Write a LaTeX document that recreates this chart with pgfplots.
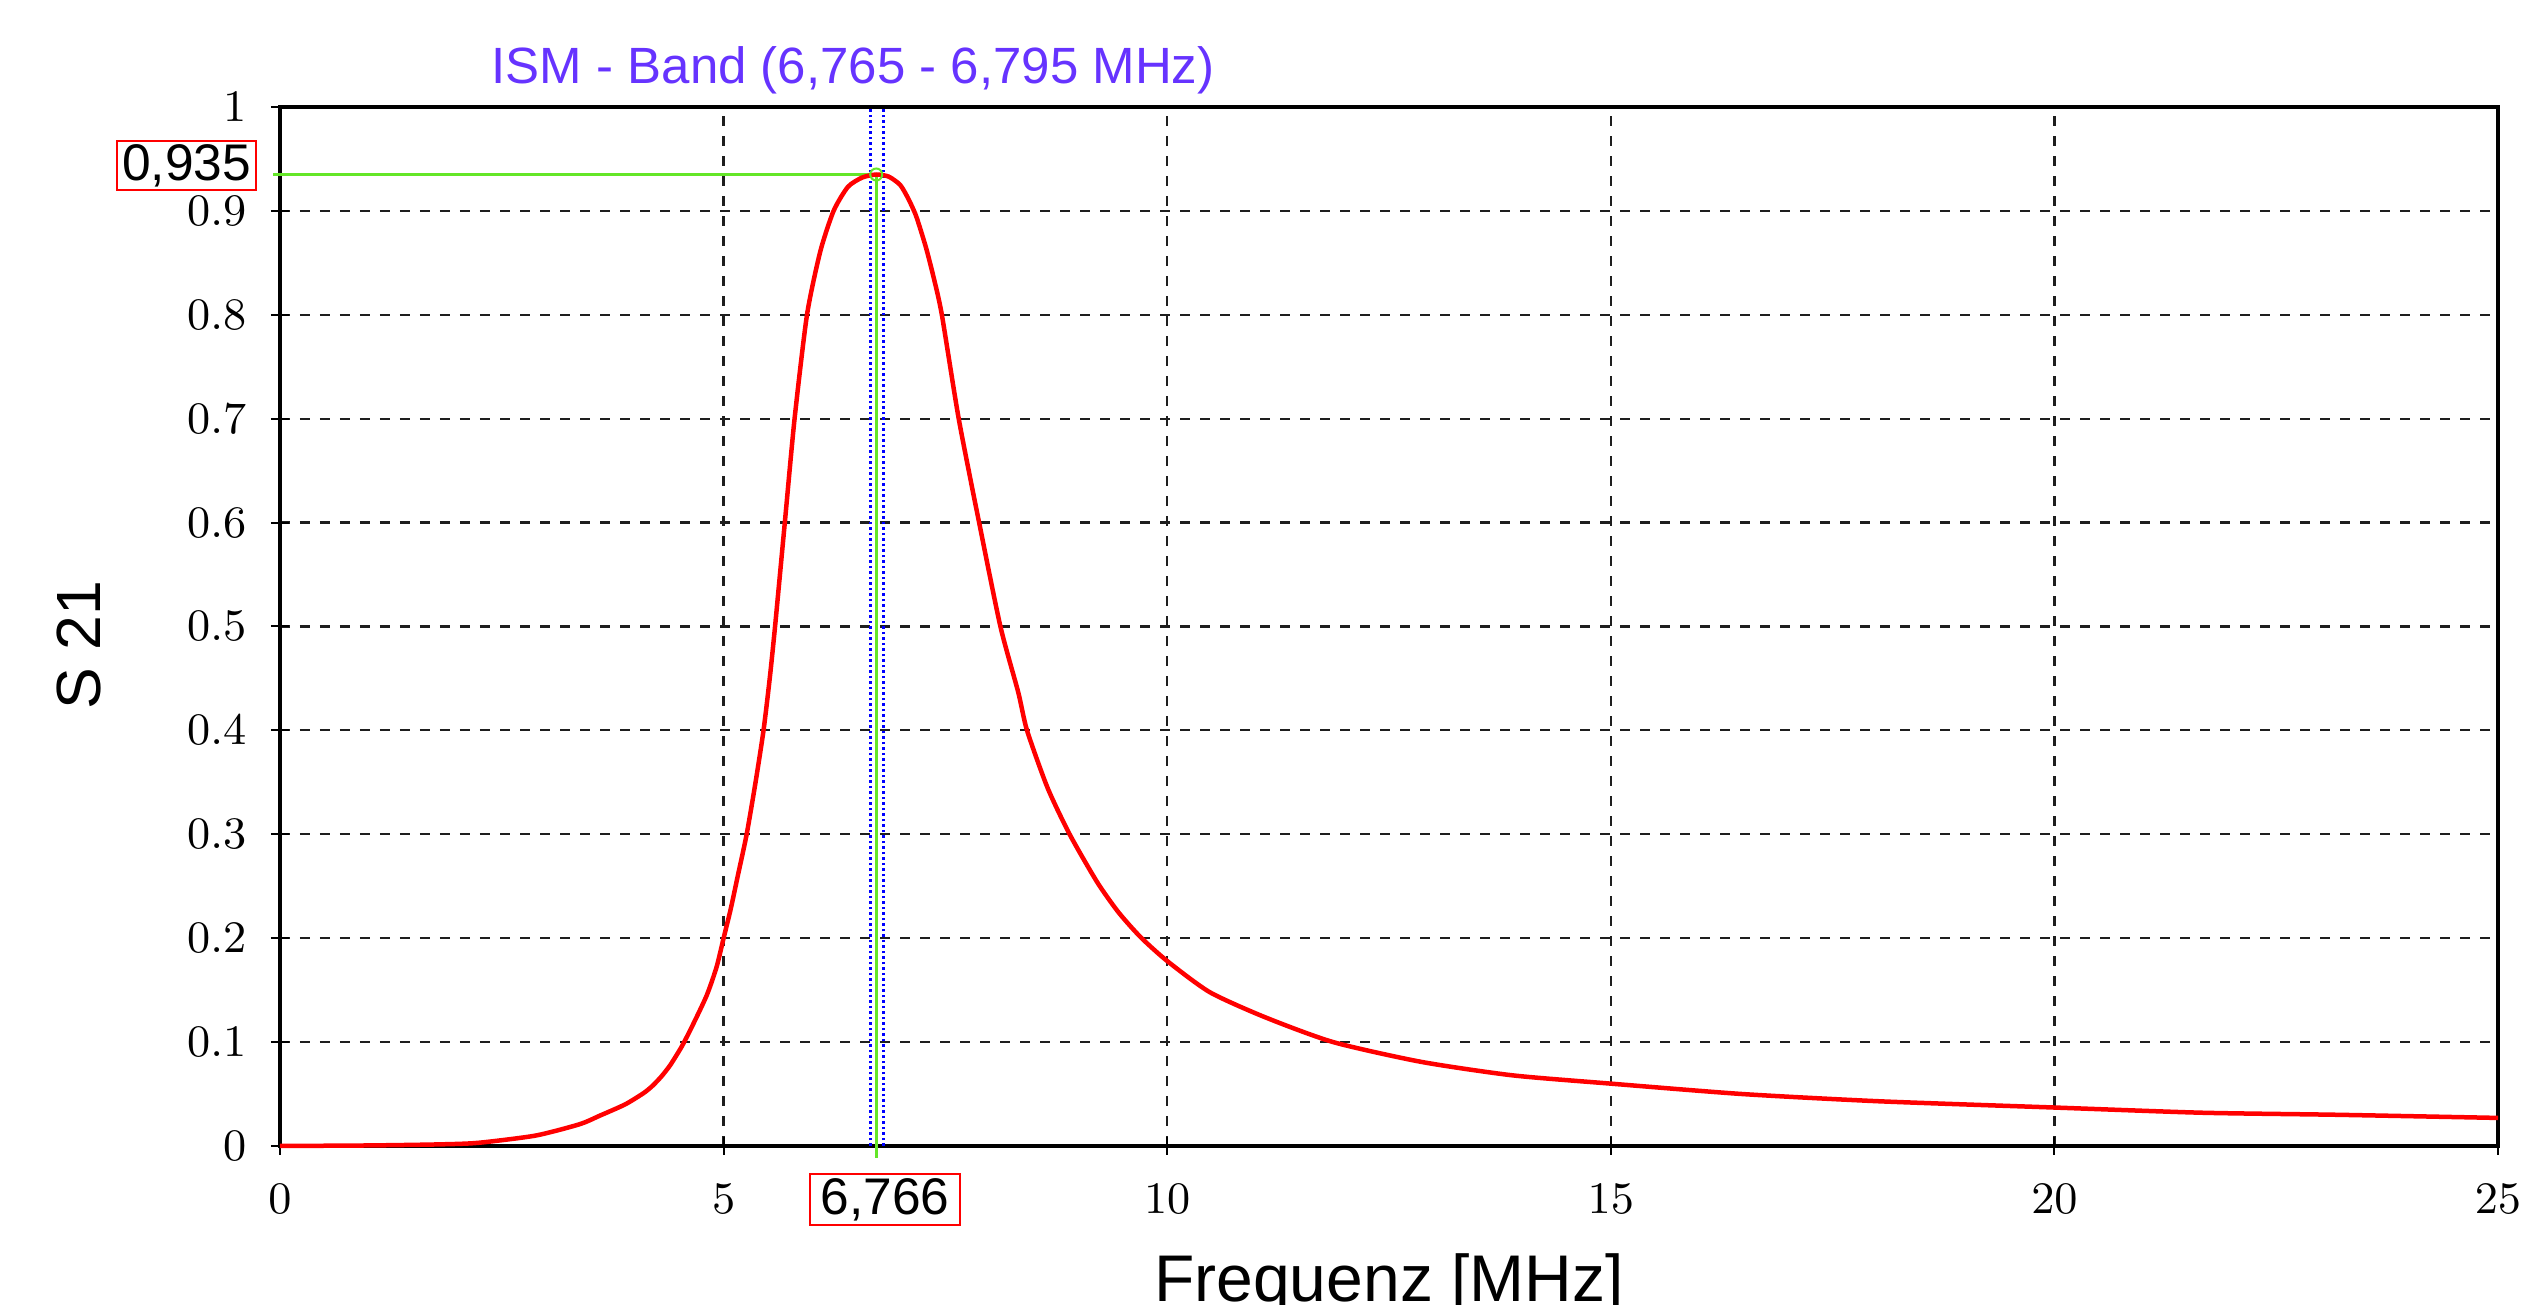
\documentclass[border=0pt]{standalone}
\usepackage{fontspec}
\setmainfont{Liberation Sans}
\usepackage{pgfplots}
\pgfplotsset{compat=1.18}
\definecolor{bandblue}{RGB}{102,51,255}
\definecolor{mkgreen}{RGB}{100,230,40}
\definecolor{gridgray}{RGB}{30,30,30}
\begin{document}
\begin{tikzpicture}
\begin{axis}[
    name=ax,
    width=443.6pt, height=207.8pt, scale only axis,
    xmin=0, xmax=25, ymin=0, ymax=1,
    xtick={0,5,10,15,20,25},
    ytick={0,0.1,0.2,0.3,0.4,0.5,0.6,0.7,0.8,0.9,1},
    yticklabel style={/pgf/number format/fixed, /pgf/number format/precision=1, xshift=-1.4pt},
    xticklabel style={yshift=-2.4pt},
    ticklabel style={font=\fontsize{8.7}{10}\selectfont},
    tick pos=left, tick align=center, major tick length=3.6pt,
    tick style={black, line width=0.4pt},
    axis line style={black, line width=0.7pt},
    grid=major,
    major grid style={gridgray, dash pattern=on 2pt off 2pt, line width=0.45pt},
    xlabel={Frequenz [MHz]},
    xlabel style={font=\fontsize{13.2}{15}\selectfont, at={(axis description cs:0.5,-0.150)}, anchor=base},
    ylabel={S 21},
    ylabel style={font=\fontsize{12.5}{14}\selectfont, at={(axis description cs:-0.0906,0.482)}, anchor=center},
    clip=false,
]
% ISM band limits
\addplot[blue, dash pattern=on 0.5pt off 0.6pt, line width=0.55pt] coordinates {(6.655,0) (6.655,1)};
\addplot[blue, dash pattern=on 0.5pt off 0.6pt, line width=0.55pt] coordinates {(6.806,0) (6.806,1)};
% peak marker
\addplot[mkgreen, line width=0.6pt] coordinates {(-0.08,0.935) (6.72,0.935)};
\addplot[mkgreen, line width=0.6pt] coordinates {(6.72,0.935) (6.72,-0.012)};
% S21 curve
\addplot[red, line width=0.9pt, smooth, tension=0.4] coordinates {
  (0,0) (1.0,0.0005) (1.78,0.0015) (2.23,0.003) (2.88,0.010) (3.38,0.021)
  (3.6,0.029) (3.89,0.040) (4.1,0.051) (4.2,0.058) (4.3,0.067) (4.4,0.078)
  (4.53,0.096) (4.65,0.116) (4.81,0.145) (4.92,0.172) (5.0,0.2) (5.08,0.228)
  (5.16,0.26) (5.26,0.30) (5.36,0.35) (5.45,0.40) (5.52,0.45) (5.58,0.50)
  (5.69,0.60) (5.80,0.70) (5.94,0.80) (6.09,0.861) (6.24,0.90) (6.40,0.923)
  (6.56,0.932) (6.72,0.935) (6.86,0.933) (6.99,0.925) (7.08,0.912) (7.17,0.895)
  (7.28,0.865) (7.37,0.835) (7.46,0.80) (7.65,0.70) (7.88,0.60) (8.12,0.50)
  (8.32,0.437) (8.42,0.40) (8.65,0.345) (8.90,0.30) (9.21,0.254) (9.45,0.225)
  (9.7,0.201) (10.0,0.178) (10.48,0.148) (11.10,0.124) (11.87,0.10) (12.86,0.081)
  (13.89,0.068) (15,0.060) (16.48,0.050) (18.03,0.043) (20,0.037) (21.66,0.032)
  (23.2,0.030) (25,0.027)};
\addplot[mkgreen, only marks, mark=o, mark size=1.2pt, line width=0.4pt] coordinates {(6.72,0.935)};
% labels
\node[font=\fontsize{10.2}{12}\selectfont, text=bandblue, anchor=base, yshift=4.6pt] at (axis cs:6.46,1) {ISM - Band (6,765 - 6,795 MHz)};
\node[draw=red, line width=0.5pt, minimum width=30pt, minimum height=10.2pt, inner sep=0pt,
      font=\fontsize{10.3}{12}\selectfont, yshift=-10.7pt] at (axis cs:6.82,0) {6,766};
\node[draw=red, line width=0.5pt, minimum width=27.8pt, minimum height=9.8pt, inner sep=0pt,
      font=\fontsize{10.3}{12}\selectfont, xshift=-18.7pt, yshift=1.8pt] at (axis cs:0,0.935) {0,935};
\end{axis}
\pgfresetboundingbox
\path[use as bounding box] ([shift={(-56pt,-31.8pt)}]ax.south west) rectangle ([shift={(8.8pt,21.4pt)}]ax.north east);
\end{tikzpicture}
\end{document}
